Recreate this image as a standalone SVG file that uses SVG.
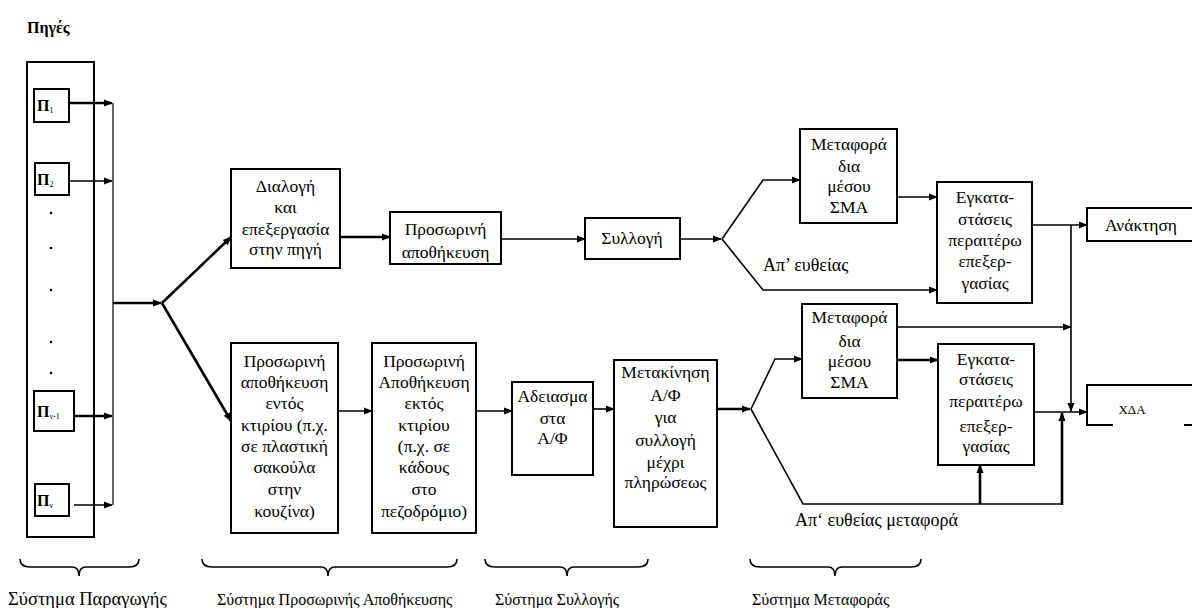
<svg xmlns="http://www.w3.org/2000/svg" width="1192" height="608" viewBox="0 0 1192 608">
<defs>
<marker id="ah" viewBox="0 0 10 10" refX="9" refY="5" markerWidth="9" markerHeight="9" markerUnits="userSpaceOnUse" orient="auto">
<path d="M0,1 L10,5 L0,9 z" fill="#000"/>
</marker>
<style>
.box{fill:#fff;stroke:#000;stroke-width:2}
.t{font-family:"Liberation Serif","DejaVu Serif",serif;font-size:17.5px;fill:#000;text-anchor:middle}
.lbl{font-family:"Liberation Serif","DejaVu Serif",serif;font-size:16px;fill:#000}
.pi{font-family:"Liberation Serif","DejaVu Serif",serif;font-size:16px;font-weight:bold;fill:#000}
.sub{font-size:8px;font-weight:normal}
.c{fill:none;stroke:#000;stroke-width:1.6}
.ca{fill:none;stroke:#000;stroke-width:1.6;marker-end:url(#ah)}
.ck{fill:none;stroke:#000;stroke-width:2.6;marker-end:url(#ah)}
.br{fill:none;stroke:#000;stroke-width:1.6}
</style>
</defs>
<rect width="1192" height="608" fill="#fff"/>
<text x="27" y="33" class="lbl" style="font-size:16px;font-weight:bold">Πηγές</text>

<g id="sources">
<rect x="27" y="62" width="67" height="475" class="box"/>
<g id="p1"><rect x="34" y="89" width="35" height="33" class="box"/><text x="37" y="111" class="pi">Π<tspan class="sub" dy="2">1</tspan></text></g>
<g id="p2"><rect x="35" y="163" width="34" height="32" class="box"/><text x="37" y="185" class="pi">Π<tspan class="sub" dy="2">2</tspan></text></g>
<g id="dots" fill="#000"><circle cx="51" cy="213" r="1.3"/><circle cx="51" cy="248" r="1.3"/><circle cx="51" cy="290" r="1.3"/><circle cx="51" cy="342" r="1.3"/><circle cx="51" cy="373" r="1.3"/></g>
<g id="pn1"><rect x="34" y="391" width="40" height="40" class="box"/><text x="37" y="417" class="pi">Π<tspan class="sub" dy="2">ν-1</tspan></text></g>
<g id="pn"><rect x="35" y="484" width="34" height="32" class="box"/><text x="37" y="506" class="pi">Π<tspan class="sub" dy="2">ν</tspan></text></g>
</g>

<g id="dialogi"><rect x="231" y="169" width="109" height="99" class="box"/>
<text class="t" x="285.5" y="192">Διαλογή</text><text class="t" x="285.5" y="213">και</text><text class="t" x="285.5" y="235">επεξεργασία</text><text class="t" x="285.5" y="255">στην πηγή</text></g>

<g id="prosorini-up"><rect x="390" y="212" width="111" height="52" class="box"/>
<text class="t" x="445.5" y="235">Προσωρινή</text><text class="t" x="445.5" y="258">αποθήκευση</text></g>

<g id="syllogi"><rect x="585" y="218" width="95" height="41" class="box"/>
<text class="t" x="632" y="244">Συλλογή</text></g>

<g id="metafora-up"><rect x="800" y="129" width="97" height="94" class="box"/>
<text class="t" x="849" y="150">Μεταφορά</text><text class="t" x="849" y="172">δια</text><text class="t" x="849" y="192">μέσου</text><text class="t" x="849" y="213">ΣΜΑ</text></g>

<g id="egkat-up"><rect x="937" y="182" width="95" height="121" class="box"/>
<text class="t" x="985" y="203">Εγκατα-</text><text class="t" x="985" y="225">στάσεις</text><text class="t" x="985" y="246">περαιτέρω</text><text class="t" x="985" y="267">επεξερ-</text><text class="t" x="985" y="289">γασίας</text></g>

<g id="anaktisi"><path d="M1192,208 H1087 V241 H1192" class="box" style="fill:none"/>
<text class="t" x="1141" y="231">Ανάκτηση</text></g>

<g id="xda"><path d="M1192,385 H1087 V425 H1113 M1184,425 H1192" class="box" style="fill:none"/>
<text class="t" x="1132" y="414" style="font-size:13px">ΧΔΑ</text></g>

<g id="box1"><rect x="231" y="343" width="107" height="190" class="box"/>
<text class="t" x="284.5" y="367">Προσωρινή</text><text class="t" x="284.5" y="388">αποθήκευση</text><text class="t" x="284.5" y="409">εντός</text><text class="t" x="284.5" y="431">κτιρίου (π.χ.</text><text class="t" x="284.5" y="452">σε πλαστική</text><text class="t" x="284.5" y="473">σακούλα</text><text class="t" x="284.5" y="495">στην</text><text class="t" x="284.5" y="517">κουζίνα)</text></g>

<g id="box2"><rect x="372" y="343" width="104" height="190" class="box"/>
<text class="t" x="424" y="367">Προσωρινή</text><text class="t" x="424" y="388">Αποθήκευση</text><text class="t" x="424" y="409">εκτός</text><text class="t" x="424" y="431">κτιρίου</text><text class="t" x="424" y="452">(π.χ. σε</text><text class="t" x="424" y="473">κάδους</text><text class="t" x="424" y="495">στο</text><text class="t" x="424" y="517">πεζοδρόμιο)</text></g>

<g id="adeiasma"><rect x="512" y="382" width="81" height="93" class="box"/>
<text class="t" x="552.5" y="402">Αδειασμα</text><text class="t" x="552.5" y="424">στα</text><text class="t" x="552.5" y="444">Α/Φ</text></g>

<g id="metakinisi"><rect x="614" y="360" width="103" height="167" class="box"/>
<text class="t" x="665.5" y="378">Μετακίνηση</text><text class="t" x="665.5" y="401">Α/Φ</text><text class="t" x="665.5" y="423">για</text><text class="t" x="665.5" y="446">συλλογή</text><text class="t" x="665.5" y="468">μέχρι</text><text class="t" x="665.5" y="488">πληρώσεως</text></g>

<g id="metafora-low"><rect x="802" y="304" width="95" height="94" class="box"/>
<text class="t" x="849.5" y="323">Μεταφορά</text><text class="t" x="849.5" y="347">δια</text><text class="t" x="849.5" y="367">μέσου</text><text class="t" x="849.5" y="388">ΣΜΑ</text></g>

<g id="egkat-low"><rect x="938" y="344" width="96" height="121" class="box"/>
<text class="t" x="986" y="365">Εγκατα-</text><text class="t" x="986" y="385">στάσεις</text><text class="t" x="986" y="407">περαιτέρω</text><text class="t" x="986" y="432">επεξερ-</text><text class="t" x="986" y="452">γασίας</text></g>

<g id="connectors">
<path class="ck" d="M69,103 H112"/>
<path class="ca" d="M69,181 H112"/>
<path class="ck" d="M74,416 H112"/>
<path class="ca" d="M74,505 H112"/>
<path class="c" d="M113,103 V505" style="stroke-width:1.2"/>
<path class="ck" d="M113,303 H161"/>
<path class="ck" d="M162,303 L231,237"/>
<path class="ck" d="M162,303 L231,421"/>
<path class="ck" d="M340,237 H390"/>
<path class="ca" d="M501,239 H585"/>
<path class="ca" d="M680,239 H721"/>
<path class="ca" d="M722,239 L763,180 H800"/>
<path class="ca" d="M722,239 L763,290 H937"/>
<path class="ca" d="M897,197 H937"/>
<path class="ca" d="M1032,225 H1087"/>
<path class="ca" d="M1071,225 V411"/>
<path class="ca" d="M897,327 H1071"/>
<path class="ck" d="M897,360 H938"/>
<path class="ca" d="M1034,412 H1087"/>
<path class="ca" d="M338,411 H372"/>
<path class="ca" d="M476,411 H512"/>
<path class="ca" d="M593,409 H614"/>
<path class="ck" d="M717,409 H750"/>
<path class="ca" d="M751,409 L775,359 H802"/>
<path class="c" d="M751,409 L803,504 H1062"/>
<path class="ck" d="M980,504 V465"/>
<path class="ck" d="M1062,505 V413"/>
</g>

<text class="lbl" x="763" y="271" style="font-size:18px">Απ’ ευθείας</text>
<text class="lbl" x="795" y="526" style="font-size:18px">Απ‘ ευθείας μεταφορά</text>

<g id="braces">
<path class="br" d="M20,559 Q20,567 30,567 H72 Q79,567 79,576 Q79,567 86,567 H129 Q139,567 139,559"/>
<path class="br" d="M202,559 Q202,567 212,567 H321 Q328,567 328,576 Q328,567 335,567 H447 Q457,567 457,559"/>
<path class="br" d="M485,559 Q485,567 495,567 H560 Q567,567 567,576 Q567,567 574,567 H638 Q648,567 648,559"/>
<path class="br" d="M750,559 Q750,567 760,567 H828 Q835,567 835,576 Q835,567 842,567 H911 Q921,567 921,559"/>
</g>
<text class="lbl" x="8" y="605" style="font-size:18.5px">Σύστημα Παραγωγής</text>
<text class="lbl" x="217" y="605">Σύστημα Προσωρινής Αποθήκευσης</text>
<text class="lbl" x="495" y="605">Σύστημα Συλλογής</text>
<text class="lbl" x="752" y="605">Σύστημα Μεταφοράς</text>
</svg>
